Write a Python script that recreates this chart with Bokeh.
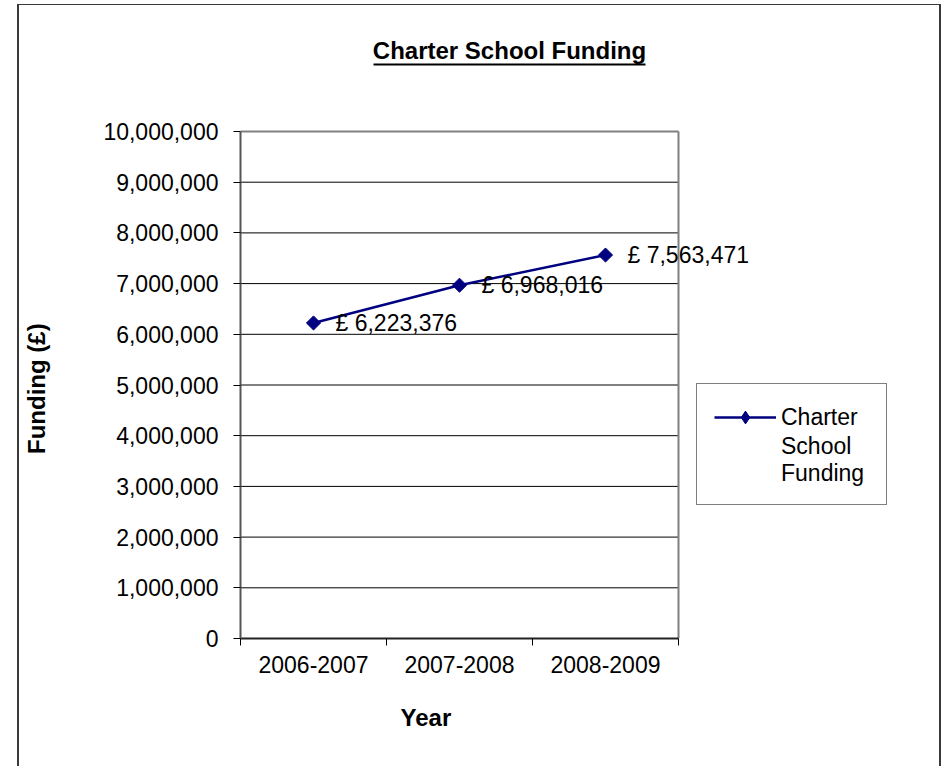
import math
from bokeh.plotting import figure
from bokeh.models import (Range1d, FixedTicker, NumeralTickFormatter, ColumnDataSource,
                          Label, LabelSet, Legend, LegendItem, BoxAnnotation, Title,
                          CDSView, IndexFilter)
from bokeh.core.properties import value
from bokeh.embed import file_html
from bokeh.resources import INLINE

# ---- data ----
categories = ["2006-2007", "2007-2008", "2008-2009"]
funding = [6223376, 6968016, 7563471]
y_ticks = [0, 1000000, 2000000, 3000000, 4000000, 5000000, 6000000, 7000000, 8000000, 9000000, 10000000]
title_text = "Charter School Funding"
x_title = "Year"
y_title = "Funding (£)"
series_lines = ["Charter", "School\nFunding"]

# ---- layout constants (pixels) ----
FONT = "Liberation Sans"
FS = "23px"
FSB = "24px"
NAVY = "#000080"
W, H = 924, 762
PLOT_L, PLOT_R, PLOT_T, PLOT_B = 240, 678, 131, 638   # plot area in page px
CANVAS_L, CANVAS_T = 19, 5
FRAME_R, FRAME_T = 939, 5
YLABEL_PAD = 20   # non-breaking spaces that shift the y label down to the plot-area middle

n = len(categories)
xs = [i + 0.5 for i in range(n)]
y_max = y_ticks[-1]
x_end = n * (FRAME_R - PLOT_L) / (PLOT_R - PLOT_L)
y_end = y_max * (PLOT_B - FRAME_T) / (PLOT_B - PLOT_T)

labels = ["£ {:,}".format(v) for v in funding]
src = ColumnDataSource(dict(x=xs, y=funding, lab=labels))

p = figure(width=W, height=H, output_backend="svg", toolbar_location=None,
           x_range=Range1d(0, x_end), y_range=Range1d(0, y_end),
           min_border_left=PLOT_L - CANVAS_L, min_border_right=CANVAS_L + W - FRAME_R,
           min_border_top=FRAME_T - CANVAS_T, min_border_bottom=CANVAS_T + H - PLOT_B)
p.styles = {"margin-left": "17px", "margin-top": "4px",
            "border-left": "2px solid #3a3a3a", "border-right": "2px solid #3a3a3a",
            "border-top": "1px solid #3a3a3a"}

p.background_fill_color = "white"
p.border_fill_color = "white"
p.outline_line_color = None
p.xgrid.grid_line_color = None
p.ygrid.grid_line_color = None

# ---- x axis ----
p.xaxis.bounds = (0, n)
p.xaxis.ticker = FixedTicker(ticks=xs, minor_ticks=list(range(n + 1)))
p.xaxis.major_label_overrides = {x: c for x, c in zip(xs, categories)}
p.xaxis.major_tick_line_color = None
p.xaxis.minor_tick_in = 0
p.xaxis.minor_tick_out = 7
p.xaxis.minor_tick_line_color = "black"
p.xaxis.axis_line_color = "#222222"
p.xaxis.axis_line_width = 2
p.xaxis.major_label_standoff = 10

# ---- y axis ----
p.yaxis.bounds = (0, y_max)
p.yaxis.ticker = FixedTicker(ticks=y_ticks)
p.yaxis.formatter = NumeralTickFormatter(format="0,0")
p.yaxis.minor_tick_line_color = None
p.yaxis.major_tick_in = 0
p.yaxis.major_tick_out = 7
p.yaxis.major_tick_line_color = "black"
p.yaxis.axis_line_color = "#555555"
p.yaxis.axis_line_width = 2
p.yaxis.major_label_standoff = 15
p.yaxis.axis_label = y_title + "\u00a0" * YLABEL_PAD
p.yaxis.axis_label_standoff = 50
p.yaxis.axis_label_text_font = FONT
p.yaxis.axis_label_text_font_size = FSB
p.yaxis.axis_label_text_font_style = "bold"
p.yaxis.axis_label_text_color = "black"

for ax in (p.xaxis, p.yaxis):
    ax.major_label_text_font = FONT
    ax.major_label_text_font_size = FS
    ax.major_label_text_color = "black"

# x axis title placed as a panel title (positioned relative to the plot area)
p.add_layout(Title(text=x_title, align="left", offset=160, standoff=52,
                   text_font=FONT, text_font_size=FSB, text_font_style="bold",
                   text_color="black"), "below")

# ---- gridlines (within plot area) and plot-area border ----
grid_y = y_ticks[1:-1]
p.segment(x0=[0] * len(grid_y), x1=[n] * len(grid_y), y0=grid_y, y1=grid_y,
          line_color="black", line_width=1)
p.segment(x0=[0, n], x1=[n, n], y0=[y_max, 0], y1=[y_max, y_max],
          line_color="#808080", line_width=2)

# ---- series ----
line = p.line("x", "y", source=src, line_color=NAVY, line_width=2.5)
# diamond markers (used for the legend swatch) hidden under the rotated squares
leg_marker = p.scatter("x", "y", source=src, marker="diamond", size=12,
                       fill_color=NAVY, line_color=NAVY)
pts = p.scatter("x", "y", source=src, marker="square", angle=math.pi / 4, size=10,
                fill_color=NAVY, line_color=NAVY)

p.add_layout(LabelSet(x="x", y="y", text="lab", source=src, x_offset=22,
                      text_baseline="middle", text_font=value(FONT),
                      text_font_size=value(FS), text_color="black"))

leg_blank = p.line("x", "y", source=src, line_alpha=0)

legend = Legend(items=[LegendItem(label=series_lines[0], renderers=[line, leg_marker]),
                       LegendItem(label=series_lines[1], renderers=[leg_blank])],
                location=(456, 133), padding=17, spacing=0,
                glyph_width=62, glyph_height=32, label_standoff=5, label_width=88,
                border_line_color="black", border_line_width=1,
                label_text_font=FONT, label_text_font_size=FS, label_text_color="black",
                label_text_line_height=1.12,
                background_fill_color="white", background_fill_alpha=1)
p.add_layout(legend)

# ---- title with underline ----
p.add_layout(Label(x=269, y=PLOT_B - 50, x_units="screen", y_units="screen", text=title_text,
                   text_align="center", text_baseline="alphabetic", text_font=FONT,
                   text_font_size=FSB, text_font_style="bold", text_color="black"))
p.add_layout(BoxAnnotation(left=133, right=405, bottom=PLOT_B - 65, top=PLOT_B - 63,
                           left_units="screen", right_units="screen",
                           bottom_units="screen", top_units="screen",
                           fill_color="black", fill_alpha=1, line_color=None))

open("out.html", "w").write(file_html(p, INLINE))
